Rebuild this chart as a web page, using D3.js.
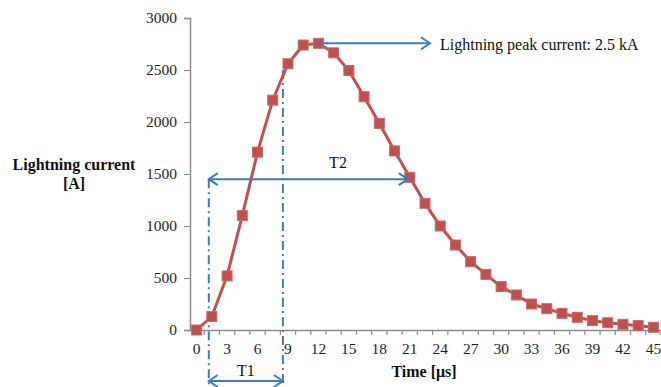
<!DOCTYPE html>
<html>
<head>
<meta charset="utf-8">
<script src="https://cdn.jsdelivr.net/npm/d3@7"></script>
<style>
  body { margin: 0; background: #fff; }
  svg { display: block; }
  svg text { font-family: "Liberation Serif", serif; }
  .tick-label { font-size: 15.5px; fill: #1e1e28; }
  .axis-title { font-size: 16px; font-weight: bold; fill: #111; }
  .note { font-size: 16px; fill: #111; }
</style>
</head>
<body>
<div id="chart"></div>
<script>
// data
const times = [0, 1.5, 3, 4.5, 6, 7.5, 9, 10.5, 12, 13.5, 15, 16.5, 18, 19.5, 21, 22.5,
  24, 25.5, 27, 28.5, 30, 31.5, 33, 34.5, 36, 37.5, 39, 40.5, 42, 43.5, 45];
const current = [0, 130, 520, 1100, 1710, 2210, 2560, 2740, 2757, 2665, 2495, 2243, 1987, 1722,
  1468, 1218, 1000, 817, 657, 535, 417, 337, 250, 205, 160, 122, 90, 70, 55, 42, 26];
const xTickLabels = [0, 3, 6, 9, 12, 15, 18, 21, 24, 27, 30, 33, 36, 39, 42, 45];
const yTicks = [0, 500, 1000, 1500, 2000, 2500, 3000];

const width = 661, height = 387;
const svg = d3.select("#chart").append("svg").attr("width", width).attr("height", height);

// scales
const x = d3.scaleBand().domain(times).range([189, 661]).padding(0);
const y = d3.scaleLinear().domain([0, 3000]).range([330, 18]);
const cx = (t) => x(t) + x.bandwidth() / 2;
// continuous time -> px (for annotations between categories)
const tx = d3.scaleLinear().domain([0, 45]).range([cx(0), cx(45)]);

const axisColor = "#8c8c8c";
const blue = "#3b7cc6";
const red = "#c0504d";

// y axis
const yAxis = svg.append("g")
  .attr("transform", "translate(190,0)")
  .call(d3.axisLeft(y).tickValues(yTicks).tickSize(6).tickPadding(7).tickFormat(d3.format("d")))
  .attr("font-family", null)
  .attr("font-size", null);
yAxis.select(".domain").attr("stroke", axisColor).attr("stroke-width", 1.5);
yAxis.selectAll(".tick line").attr("stroke", axisColor).attr("stroke-width", 1.2);
yAxis.selectAll(".tick text").attr("class", "tick-label");

// x axis
const xAxis = svg.append("g")
  .attr("transform", "translate(0,330)")
  .call(d3.axisBottom(x).tickValues(xTickLabels).tickSize(0).tickPadding(13).tickSizeOuter(0))
  .attr("font-family", null)
  .attr("font-size", null);
xAxis.select(".domain").attr("stroke", axisColor).attr("stroke-width", 1.5);
xAxis.selectAll(".tick text").attr("class", "tick-label");
// boundary ticks between categories
xAxis.selectAll(".bticks")
  .data(times.slice(1))
  .enter()
  .append("line")
  .attr("x1", (d) => x(d))
  .attr("x2", (d) => x(d))
  .attr("y1", 0)
  .attr("y2", 5)
  .attr("stroke", axisColor)
  .attr("stroke-width", 1.2);
xAxis.append("line")
  .attr("x1", 660).attr("x2", 660).attr("y1", 0).attr("y2", 5)
  .attr("stroke", axisColor).attr("stroke-width", 1.2);

// axis titles
svg.append("text").attr("class", "axis-title")
  .attr("x", 74).attr("y", 170).attr("text-anchor", "middle").text("Lightning current");
svg.append("text").attr("class", "axis-title")
  .attr("x", 74).attr("y", 189).attr("text-anchor", "middle").text("[A]");
svg.append("text").attr("class", "axis-title")
  .attr("x", 424).attr("y", 377).attr("text-anchor", "middle").text("Time [\u03bcs]");

// arrow markers
const defs = svg.append("defs");
["end", "start"].forEach((k) => {
  defs.append("marker")
    .attr("id", "arrow-" + k)
    .attr("viewBox", "-10 -7 12 14")
    .attr("markerWidth", 12)
    .attr("markerHeight", 14)
    .attr("markerUnits", "userSpaceOnUse")
    .attr("orient", k === "end" ? "auto" : "auto-start-reverse")
    .append("path")
    .attr("d", "M-9,-6 L0,0 L-9,6")
    .attr("fill", "none")
    .attr("stroke", blue)
    .attr("stroke-width", 2);
});

// dash-dot verticals
const t1Start = 1.2, t1End = 8.5;
const dashDot = "9,4,2,4";
svg.append("line")
  .attr("x1", tx(t1Start)).attr("x2", tx(t1Start))
  .attr("y1", y(1450)).attr("y2", 387)
  .attr("stroke", blue).attr("stroke-width", 2).attr("stroke-dasharray", dashDot);
svg.append("line")
  .attr("x1", tx(t1End)).attr("x2", tx(t1End))
  .attr("y1", y(2500)).attr("y2", 387)
  .attr("stroke", blue).attr("stroke-width", 2).attr("stroke-dasharray", dashDot);

// series line
const line = d3.line()
  .x((d, i) => cx(times[i]))
  .y((d) => y(d));

svg.append("path")
  .datum(current)
  .attr("d", line)
  .attr("fill", "none")
  .attr("stroke", red)
  .attr("stroke-width", 3);

// markers
const ms = 10;
svg.selectAll(".pt")
  .data(current)
  .enter()
  .append("rect")
  .attr("x", (d, i) => cx(times[i]) - ms / 2)
  .attr("y", (d) => y(d) - ms / 2)
  .attr("width", ms)
  .attr("height", ms)
  .attr("fill", red)
  .attr("stroke", "#c96a68")
  .attr("stroke-width", 1);

// peak annotation
const peakI = d3.maxIndex(current);
svg.append("line")
  .attr("x1", cx(times[peakI])).attr("x2", 430)
  .attr("y1", y(current[peakI])).attr("y2", y(current[peakI]))
  .attr("stroke", blue).attr("stroke-width", 2)
  .attr("marker-end", "url(#arrow-end)");
svg.append("text").attr("class", "note")
  .attr("x", 440).attr("y", 50).text("Lightning peak current: 2.5 kA");

// T2
svg.append("line")
  .attr("x1", tx(t1Start)).attr("x2", cx(21) - 2)
  .attr("y1", y(1450)).attr("y2", y(1450))
  .attr("stroke", blue).attr("stroke-width", 2)
  .attr("marker-start", "url(#arrow-start)")
  .attr("marker-end", "url(#arrow-end)");
svg.append("text").attr("class", "note")
  .attr("x", 338).attr("y", 168).attr("text-anchor", "middle").text("T2");

// T1
svg.append("line")
  .attr("x1", tx(t1Start)).attr("x2", tx(t1End))
  .attr("y1", 381).attr("y2", 381)
  .attr("stroke", blue).attr("stroke-width", 2)
  .attr("marker-start", "url(#arrow-start)")
  .attr("marker-end", "url(#arrow-end)");
svg.append("text").attr("class", "note")
  .attr("x", (tx(t1Start) + tx(t1End)) / 2).attr("y", 376).attr("text-anchor", "middle").text("T1");
</script>
</body>
</html>
